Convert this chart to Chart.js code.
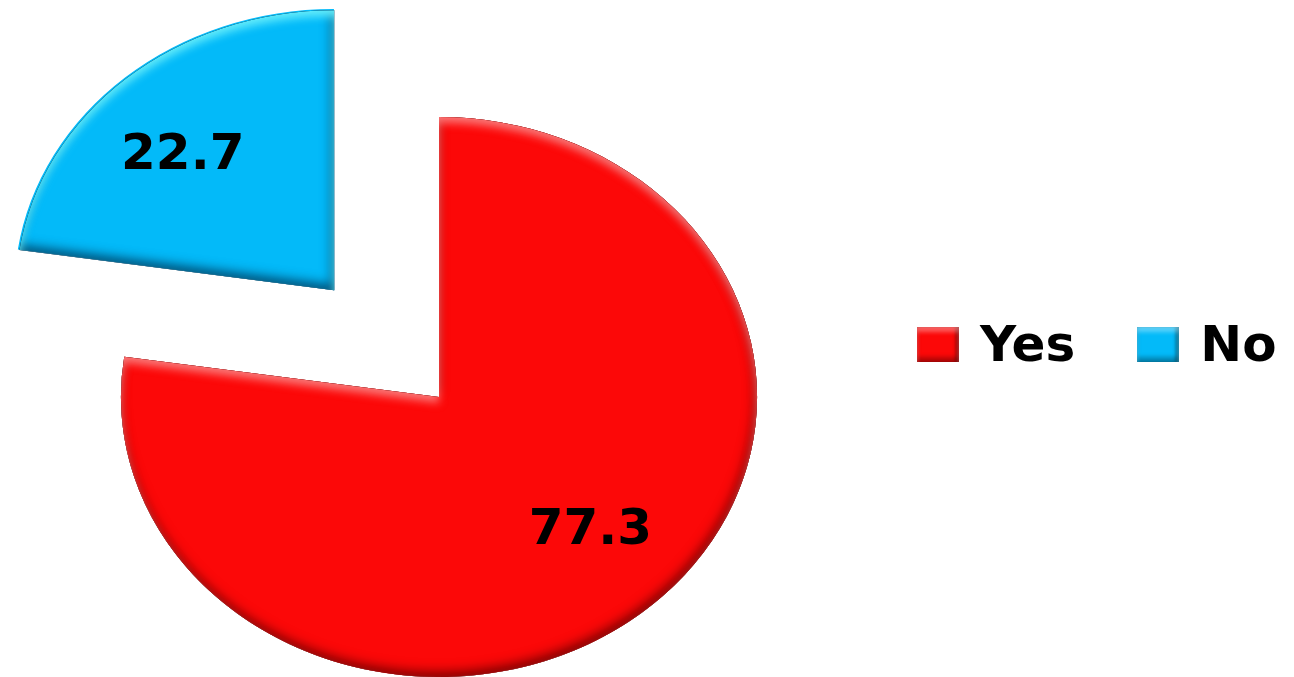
<!DOCTYPE html>
<html>
<head>
<meta charset="utf-8">
<script src="https://cdn.jsdelivr.net/npm/chart.js@4/dist/chart.umd.min.js"></script>
<style>
    html, body { margin: 0; padding: 0; background: #fff; }
    #wrap { position: relative; width: 1294px; height: 677px; overflow: hidden; }
    #legend {
        position: absolute; left: 917px; top: 315px;
        display: flex; align-items: center;
        font-family: "DejaVu Sans", sans-serif; font-weight: bold; font-size: 50px;
        color: #000;
    }
    .item { display: flex; align-items: center; margin-right: 62px; }
    .item:last-child { margin-right: 0; }
    .box {
        width: 42px; height: 35px; margin-right: 21px;
        box-shadow: inset 0 5px 4px rgba(255,255,255,0.35),
                    inset 0 -5px 4px rgba(0,0,0,0.28),
                    inset -4px 0 3px rgba(0,0,0,0.3);
    }
</style>
</head>
<body>
<div id="wrap">
    <canvas id="pieChart"></canvas>
    <div id="legend"></div>
</div>
<script>
const labels = ['Yes', 'No'];
const values = [77.3, 22.7];
const colors = ['#FC0808', '#03BAF9'];
const highlights = ['rgba(255,130,130,0.95)', 'rgba(110,245,255,0.95)'];
const shadows = ['rgba(110,0,0,0.95)', 'rgba(0,60,95,0.95)'];
const offsets = [0, 564];

// pie is drawn wider than tall
const stretchX = 1.136;
const pieRadius = 280;

function arcPath(arc) {
    const off = (arc.options.offset || 0) / 4;
    const mid = (arc.startAngle + arc.endAngle) / 2;
    const cx = arc.x + Math.cos(mid) * off;
    const cy = arc.y + Math.sin(mid) * off;
    const p = new Path2D();
    p.moveTo(cx, cy);
    p.arc(cx, cy, arc.outerRadius, arc.startAngle, arc.endAngle);
    p.closePath();
    return p;
}

function innerShadow(ctx, path, color, edge, blur, dx, dy) {
    ctx.save();
    ctx.clip(path);
    const ring = new Path2D();
    ring.rect(-4000, -4000, 8000, 8000);
    ring.addPath(path);
    ctx.shadowColor = color;
    ctx.shadowBlur = blur;
    ctx.shadowOffsetX = dx;
    ctx.shadowOffsetY = dy;
    ctx.fillStyle = edge;
    ctx.fill(ring, 'evenodd');
    ctx.restore();
}

const stretchPlugin = {
    id: 'stretch',
    beforeDatasetsDraw(chart) {
        const arc = chart.getDatasetMeta(0).data[0];
        const ctx = chart.ctx;
        ctx.save();
        ctx.translate(arc.x, arc.y);
        ctx.scale(stretchX, 1);
        ctx.translate(-arc.x, -arc.y);
    },
    afterDatasetsDraw(chart) {
        const ctx = chart.ctx;
        // bevel: light on upper edges, dark on lower ones
        chart.getDatasetMeta(0).data.forEach(function (arc, i) {
            const path = arcPath(arc);
            innerShadow(ctx, path, shadows[i], shadows[i], 12, -2, -5);
            innerShadow(ctx, path, highlights[i], shadows[i], 9, 0, 6);
        });
        ctx.restore();
    }
};

const valueLabels = {
    id: 'valueLabels',
    afterDatasetsDraw(chart) {
        const ctx = chart.ctx;
        const tilt = 4 * Math.PI / 180;
        ctx.save();
        ctx.font = 'bold 50px "DejaVu Sans"';
        ctx.fillStyle = '#000';
        ctx.textAlign = 'center';
        ctx.textBaseline = 'middle';
        chart.getDatasetMeta(0).data.forEach(function (arc, i) {
            const mid = (arc.startAngle + arc.endAngle) / 2;
            const off = (arc.options.offset || 0) / 4;
            const d = arc.outerRadius * 0.675;
            const dx = Math.cos(mid) * off + Math.cos(mid - tilt) * d;
            const dy = Math.sin(mid) * off + Math.sin(mid - tilt) * d;
            ctx.fillText(values[i].toFixed(1), arc.x + dx * stretchX, arc.y + dy);
        });
        ctx.restore();
    }
};

document.addEventListener('DOMContentLoaded', function () {
    const canvas = document.getElementById('pieChart');
    const chart = new Chart(canvas.getContext('2d'), {
        type: 'pie',
        data: {
            labels: labels,
            datasets: [{
                data: values,
                backgroundColor: colors,
                borderWidth: 0,
                offset: offsets,
                clip: false
            }]
        },
        options: {
            responsive: true,
            maintainAspectRatio: false,
            animation: false,
            radius: pieRadius,
            cutout: '0%',
            layout: {
                padding: { left: 100, right: 516, top: 117, bottom: 0 }
            },
            plugins: {
                legend: { display: false },
                tooltip: { enabled: false }
            }
        },
        plugins: [stretchPlugin, valueLabels]
    });

    // legend beside the pie
    const legend = document.getElementById('legend');
    chart.data.labels.forEach(function (name, i) {
        const item = document.createElement('div');
        item.className = 'item';
        const box = document.createElement('div');
        box.className = 'box';
        box.style.background = colors[i];
        const text = document.createElement('span');
        text.textContent = name;
        item.appendChild(box);
        item.appendChild(text);
        legend.appendChild(item);
    });
});
</script>
</body>
</html>
